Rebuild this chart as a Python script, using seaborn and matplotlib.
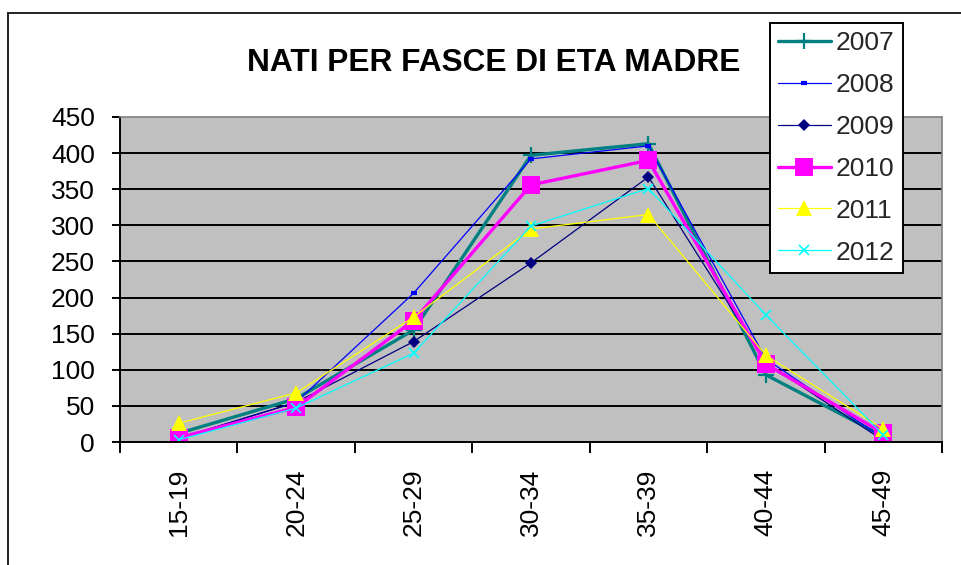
import matplotlib
matplotlib.use("Agg")
import matplotlib.pyplot as plt
from matplotlib.patches import Rectangle
from matplotlib.ticker import FixedLocator, NullFormatter
import seaborn as sns
import pandas as pd
import numpy as np

# ---- data ----
categories = ["15-19", "20-24", "25-29", "30-34", "35-39", "40-44", "45-49"]
years = ["2007", "2008", "2009", "2010", "2011", "2012"]
v2007 = [12, 60, 155, 397, 413, 93, 8]
v2008 = [5, 55, 206, 392, 410, 115, 5]
v2009 = [5, 55, 139, 248, 367, 110, 2]
v2010 = [6, 48, 168, 356, 390, 108, 12]
v2011 = [26, 68, 173, 295, 315, 120, 18]
v2012 = [3, 47, 123, 299, 351, 176, 10]
series = [v2007, v2008, v2009, v2010, v2011, v2012]
yticks = [0, 50, 100, 150, 200, 250, 300, 350, 400, 450]
title = "NATI PER FASCE DI ETA MADRE"

rows = []
for y, vals in zip(years, series):
    for i, (c, v) in enumerate(zip(categories, vals)):
        rows.append({"year": y, "pos": i, "cat": c, "value": v})
df = pd.DataFrame(rows)

# ---- styles ----
styles = {
    "2007": dict(color="#008080", lw=2.4, marker="+", ms=11, mew=1.6),
    "2008": dict(color="#0000FF", lw=0.9, marker="_", ms=5, mew=3),
    "2009": dict(color="#000080", lw=0.9, marker="D", ms=6, mew=0),
    "2010": dict(color="#FF00FF", lw=2.4, marker="s", ms=13, mew=0),
    "2011": dict(color="#FFFF00", lw=0.9, marker="^", ms=11, mew=0),
    "2012": dict(color="#00FFFF", lw=0.9, marker="x", ms=7, mew=1.2),
}

sns.set_theme(style="white")
plt.rcParams["font.family"] = ["Liberation Sans", "DejaVu Sans"]

W, H = 962, 565
fig = plt.figure(figsize=(W / 100, H / 100), dpi=100)
ax = fig.add_axes([120 / W, 1 - 442 / H, 822 / W, 325 / H])
ax.set_facecolor("#C0C0C0")

for y in years:
    st = styles[y]
    sub = df[df["year"] == y]
    sns.lineplot(data=sub, x="pos", y="value", ax=ax, color=st["color"],
                 linewidth=st["lw"], marker=st["marker"], markersize=st["ms"],
                 markeredgewidth=st["mew"], markerfacecolor=st["color"],
                 markeredgecolor=st["color"], label=y, legend=False,
                 errorbar=None, sort=False)

ax.set_xlim(-0.5, len(categories) - 0.5)
ax.set_ylim(0, 450)
ax.set_xlabel("")
ax.set_ylabel("")

# grid lines
for t in yticks[1:-1]:
    ax.axhline(t, color="black", lw=1.4, zorder=1)

ax.set_yticks(yticks)
ax.set_yticklabels([str(t) for t in yticks])
ax.set_xticks(range(len(categories)))
ax.set_xticklabels(categories, rotation=90)
ax.xaxis.set_minor_locator(FixedLocator(np.arange(-0.5, len(categories), 1.0)))
ax.xaxis.set_minor_formatter(NullFormatter())
ax.tick_params(axis="x", which="major", length=0, pad=19, labelsize=19, colors="black")
ax.tick_params(axis="x", which="minor", length=8, width=1.4, direction="out", color="black", bottom=True)
ax.tick_params(axis="y", which="major", length=6, width=1.4, direction="out", pad=12,
               labelsize=19, color="black", left=True, labelcolor="black")

for s in ["top", "right"]:
    ax.spines[s].set_color("#808080")
    ax.spines[s].set_linewidth(1.2)
for s in ["left", "bottom"]:
    ax.spines[s].set_color("black")
    ax.spines[s].set_linewidth(1.4)

# title
fig.text(494 / W, 1 - 63 / H, title, ha="center", va="center",
         fontsize=22.8, fontweight="bold", color="black")

# legend
handles, labels = ax.get_legend_handles_labels()
leg = fig.legend(handles, labels, loc="upper left",
                 bbox_to_anchor=(770 / W, 1 - 23 / H), fontsize=19,
                 frameon=True, fancybox=False, framealpha=1, edgecolor="black",
                 handlelength=2.0, handletextpad=0.2, labelspacing=0.68,
                 borderpad=0.3, borderaxespad=0)
leg.get_frame().set_linewidth(1.4)

# outer chart frame
fig.patches.append(Rectangle((8 / W, -0.1), 1.2, 1 - 13 / H + 0.1,
                             transform=fig.transFigure, fill=False,
                             edgecolor="#202020", lw=1.4))

fig.savefig("out.png", dpi=100)
